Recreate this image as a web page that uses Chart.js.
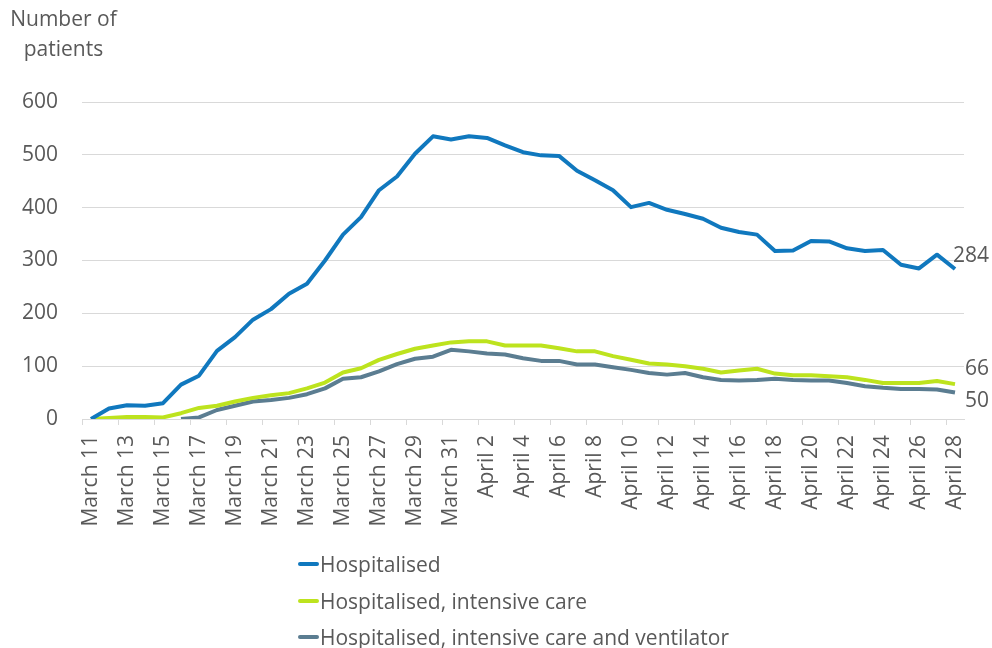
<!DOCTYPE html>
<html>
<head>
<meta charset="utf-8">
<script src="https://cdn.jsdelivr.net/npm/chart.js@4/dist/chart.umd.min.js"></script>
<style>
  body { margin: 0; background: #fff; }
  #wrap { position: relative; width: 992px; height: 648px; font-family: "Open Sans", sans-serif; color: #595959; }
  #axisTitle { position: absolute; left: 0; top: 3px; width: 127px; text-align: center; font-size: 21px; line-height: 30px; }
  #legend { position: absolute; left: 298px; top: 546px; font-size: 21px; line-height: 36.5px; }
  #legend .item { display: flex; align-items: center; white-space: nowrap; }
  #legend .swatch { width: 21px; height: 4px; margin-right: 1px; border-radius: 2px; }
</style>
</head>
<body>
<div id="wrap">
  <canvas id="patientsChart" width="992" height="648"></canvas>
  <div id="axisTitle">Number of<br>patients</div>
  <div id="legend"></div>
</div>
<script>
// Dates (one category per day)
const dateLabels = [
  "March 11", "March 12", "March 13", "March 14", "March 15", "March 16", "March 17",
  "March 18", "March 19", "March 20", "March 21", "March 22", "March 23", "March 24",
  "March 25", "March 26", "March 27", "March 28", "March 29", "March 30", "March 31",
  "April 1", "April 2", "April 3", "April 4", "April 5", "April 6", "April 7",
  "April 8", "April 9", "April 10", "April 11", "April 12", "April 13", "April 14",
  "April 15", "April 16", "April 17", "April 18", "April 19", "April 20", "April 21",
  "April 22", "April 23", "April 24", "April 25", "April 26", "April 27", "April 28"
];

const hospitalised = [
  0, 20, 26, 25, 30, 65, 82, 129, 155, 188, 208, 237, 256, 300,
  349, 382, 433, 459, 502, 535, 529, 535, 532, 518, 505, 499, 498, 470,
  452, 433, 401, 409, 396, 388, 379, 362, 354, 349, 318, 319, 337, 336,
  323, 318, 320, 292, 285, 311, 284
];

const intensiveCare = [
  0, 2, 4, 4, 3, 11, 21, 25, 33, 40, 45, 49, 58, 69,
  88, 96, 112, 123, 133, 139, 145, 147, 147, 139, 139, 139, 134, 128,
  128, 119, 112, 105, 103, 100, 95, 88, 92, 95, 86, 83, 83, 81,
  79, 74, 68, 68, 68, 72, 66
];

const ventilator = [
  null, null, null, null, null, 0, 3, 17, 25, 33, 36, 40, 47, 58,
  76, 79, 90, 104, 114, 118, 131, 128, 124, 122, 115, 110, 110, 103,
  103, 98, 93, 87, 84, 87, 79, 74, 73, 74, 76, 74, 73, 73,
  68, 62, 59, 57, 57, 56, 50
];

const seriesNames = [
  "Hospitalised",
  "Hospitalised, intensive care",
  "Hospitalised, intensive care and ventilator"
];
const seriesColors = ["#1078be", "#bde31e", "#5b7d91"];
const yTicks = [0, 100, 200, 300, 400, 500, 600];

const TEXT_COLOR = "#595959";
const GRID_COLOR = "#d9d9d9";
const FONT = { family: "'Open Sans', sans-serif", size: 21 };

// Draws the last value next to the end of each line
const endLabelPlugin = {
  id: "endLabels",
  afterDatasetsDraw(chart, args, opts) {
    const ctx = chart.ctx;
    ctx.save();
    ctx.font = `${FONT.size}px ${FONT.family}`;
    ctx.fillStyle = TEXT_COLOR;
    ctx.textAlign = "left";
    ctx.textBaseline = "middle";
    chart.data.datasets.forEach((ds, i) => {
      const meta = chart.getDatasetMeta(i);
      const last = ds.data.length - 1;
      const pt = meta.data[last];
      if (!pt) return;
      const [dx, dy] = opts.offsets[i];
      ctx.fillText(String(ds.data[last]), pt.x + dx, pt.y + dy);
    });
    ctx.restore();
  },
};

function buildDatasets() {
  return [hospitalised, intensiveCare, ventilator].map((data, i) => ({
    label: seriesNames[i],
    data,
    borderColor: seriesColors[i],
    backgroundColor: seriesColors[i],
    borderWidth: 4,
    pointRadius: 0,
    tension: 0,
    spanGaps: false,
    borderJoinStyle: "round",
  }));
}

function buildLegend(chart) {
  const box = document.getElementById("legend");
  box.innerHTML = "";
  chart.data.datasets.forEach(ds => {
    const item = document.createElement("div");
    item.className = "item";
    const sw = document.createElement("span");
    sw.className = "swatch";
    sw.style.background = ds.borderColor;
    const txt = document.createElement("span");
    txt.textContent = ds.label;
    item.appendChild(sw);
    item.appendChild(txt);
    box.appendChild(item);
  });
}

const chart = new Chart(document.getElementById("patientsChart"), {
  type: "line",
  data: { labels: dateLabels, datasets: buildDatasets() },
  options: {
    responsive: false,
    animation: false,
    layout: { padding: { top: 102, right: 28, bottom: 109, left: 0 } },
    plugins: {
      legend: { display: false },
      tooltip: { enabled: false },
      endLabels: { offsets: [[-2, -13], [10, -15], [10, 8]] },
    },
    scales: {
      x: {
        offset: true,
        afterFit: axis => { axis.height = 120; },
        grid: {
          offset: true,
          drawOnChartArea: false,
          drawTicks: true,
          tickLength: 6,
          color: c => (c.index % 2 === 0 ? GRID_COLOR : "rgba(0,0,0,0)"),
        },
        border: { color: GRID_COLOR },
        ticks: {
          autoSkip: false,
          minRotation: 90,
          maxRotation: 90,
          padding: 10,
          color: TEXT_COLOR,
          font: FONT,
          callback: (v, i) => (i % 2 === 0 ? dateLabels[i] : ""),
        },
      },
      y: {
        min: yTicks[0],
        max: yTicks[yTicks.length - 1],
        afterFit: axis => { axis.width = 82; },
        afterBuildTicks: axis => { axis.ticks = yTicks.map(v => ({ value: v })); },
        grid: { color: GRID_COLOR, drawTicks: false },
        border: { display: false },
        ticks: { padding: 24, color: TEXT_COLOR, font: FONT },
      },
    },
  },
  plugins: [endLabelPlugin],
});

buildLegend(chart);
</script>
</body>
</html>
